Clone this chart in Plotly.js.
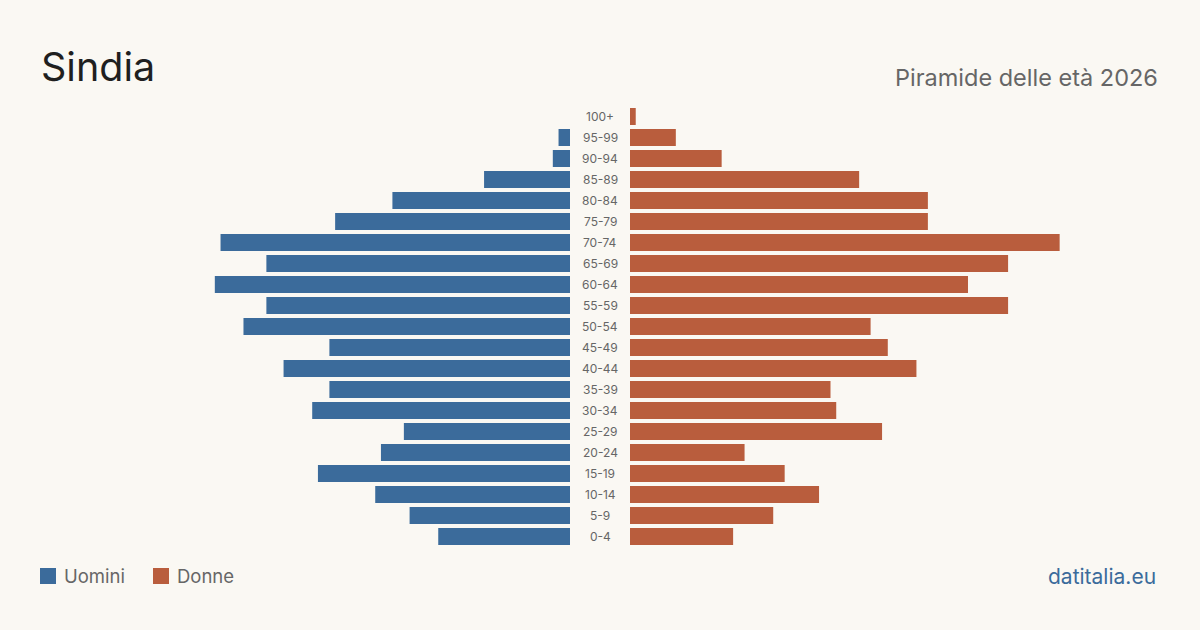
<!DOCTYPE html>
<html>
<head>
<meta charset="utf-8">
<script src="https://cdn.plot.ly/plotly-3.0.1.min.js"></script>
<style>
html,body{margin:0;padding:0;background:#faf8f3;}
#chart{width:1200px;height:630px;}
</style>
</head>
<body>
<div id="chart"></div>
<script>
const ageGroups = ["0-4","5-9","10-14","15-19","20-24","25-29","30-34","35-39","40-44","45-49","50-54","55-59","60-64","65-69","70-74","75-79","80-84","85-89","90-94","95-99","100+"];
const men   = [23,28,34,44,33,29,45,42,50,42,57,53,62,53,61,41,31,15,3,2,0];
const women = [18,25,33,27,20,44,36,35,50,45,42,66,59,66,75,52,52,40,16,8,1];

const FONT = "Inter, 'Noto Sans', sans-serif";
const BLUE = "#3b6b9b";
const ORANGE = "#b95d3d";
const RMAX = 99.5;

const MT = 106, MB = 83;
const PH = 630 - MT - MB;
const py = p => (630 - MB - p) / PH;   // pixel y -> paper y
const px = p => p / 1200;              // pixel x -> paper x (l=r=0)

const traces = [
  {type:"bar", orientation:"h", name:"Uomini", y:ageGroups, x:men, xaxis:"x", yaxis:"y",
   marker:{color:BLUE}, hoverinfo:"x+y"},
  {type:"bar", orientation:"h", name:"Donne", y:ageGroups, x:women, xaxis:"x2", yaxis:"y",
   marker:{color:ORANGE}, hoverinfo:"x+y"}
];

const annotations = ageGroups.map(g => ({
  x:0.5, xref:"paper", y:g, yref:"y", text:g, showarrow:false,
  font:{family:FONT, size:12, color:"#666"}, xanchor:"center", yanchor:"middle"
}));
annotations.push(
  {x:px(39), y:py(67), xref:"paper", yref:"paper", text:"Sindia", showarrow:false,
   xanchor:"left", yanchor:"middle", font:{family:FONT, size:39.5, color:"#1f1f1f"}},
  {x:px(1160), y:py(77), xref:"paper", yref:"paper", text:"Piramide delle età 2026", showarrow:false,
   xanchor:"right", yanchor:"middle", font:{family:FONT, size:23.5, color:"#666"}},
  {x:px(62), y:py(576), xref:"paper", yref:"paper", text:"Uomini", showarrow:false,
   xanchor:"left", yanchor:"middle", font:{family:FONT, size:18.5, color:"#666"}},
  {x:px(175), y:py(576), xref:"paper", yref:"paper", text:"Donne", showarrow:false,
   xanchor:"left", yanchor:"middle", font:{family:FONT, size:18.5, color:"#666"}},
  {x:px(1158), y:py(576), xref:"paper", yref:"paper", text:"datitalia.eu", showarrow:false,
   xanchor:"right", yanchor:"middle", font:{family:FONT, size:21, color:"#3b6b9b"}}
);

const shapes = [
  {type:"rect", xref:"paper", yref:"paper", x0:px(40), x1:px(56), y0:py(584), y1:py(568),
   fillcolor:BLUE, line:{width:0}},
  {type:"rect", xref:"paper", yref:"paper", x0:px(153), x1:px(169), y0:py(584), y1:py(568),
   fillcolor:ORANGE, line:{width:0}}
];

const layout = {
  width:1200, height:630,
  paper_bgcolor:"#faf8f3", plot_bgcolor:"#faf8f3",
  margin:{l:0, r:0, t:MT, b:MB},
  showlegend:false,
  bargap:0.19,
  xaxis:{domain:[0, 0.475], range:[RMAX, 0], showgrid:false, zeroline:false, showticklabels:false, fixedrange:true},
  xaxis2:{domain:[0.525, 1], range:[0, RMAX], showgrid:false, zeroline:false, showticklabels:false, fixedrange:true},
  yaxis:{type:"category", categoryorder:"array", categoryarray:ageGroups, showticklabels:false,
         showgrid:false, zeroline:false, range:[-0.5, ageGroups.length-0.5]},
  annotations:annotations,
  shapes:shapes,
  font:{family:FONT}
};

Plotly.newPlot("chart", traces, layout, {displayModeBar:false, staticPlot:true});
</script>
</body>
</html>
